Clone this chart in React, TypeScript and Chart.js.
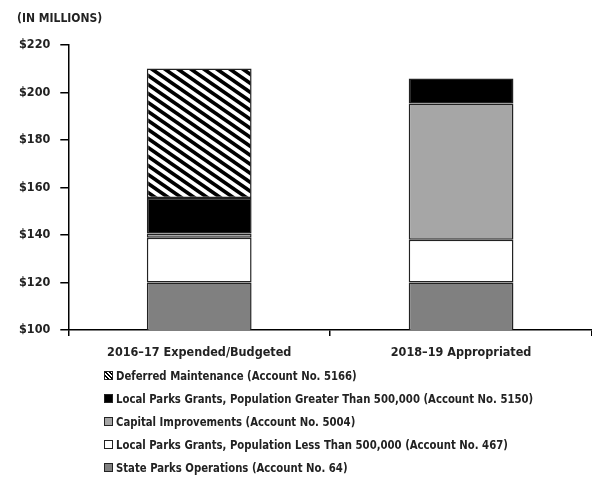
import React, { useEffect, useRef } from "react";
import { Chart, registerables } from "chart.js";

Chart.register(...registerables);

const categories = ["2016\u201317 Expended/Budgeted", "2018\u201319 Appropriated"];
const yTicks = [100, 120, 140, 160, 180, 200, 220];
const stateParksOps = [120, 120];
const localParksSmall = [18.8, 18];
const capitalImprovements = [1.8, 57.4];
const localParksLarge = [15, 10.5];
const deferredMaintenance = [54.5, 0];
const seriesLabels = [
  "State Parks Operations (Account No. 64)",
  "Local Parks Grants, Population Less Than 500,000 (Account No. 467)",
  "Capital Improvements (Account No. 5004)",
  "Local Parks Grants, Population Greater Than 500,000 (Account No. 5150)",
  "Deferred Maintenance (Account No. 5166)",
];
const unitTitle = "(IN MILLIONS)";

const FONT = "'DejaVu Sans Condensed', 'DejaVu Sans', sans-serif";

function makeHatch(): CanvasPattern | string {
  const c = document.createElement("canvas");
  const w = 13, h = 9;
  c.width = w; c.height = h;
  const ctx = c.getContext("2d");
  if (!ctx) return "#000";
  ctx.fillStyle = "#fff";
  ctx.fillRect(0, 0, w, h);
  ctx.strokeStyle = "#000";
  ctx.lineWidth = 3.6;
  for (const dx of [-w, 0, w]) {
    ctx.beginPath();
    ctx.moveTo(-w + dx, -h);
    ctx.lineTo(2 * w + dx, 2 * h);
    ctx.stroke();
  }
  const p = ctx.createPattern(c, "repeat");
  return p || "#000";
}

export default function App() {
  const ref = useRef<HTMLCanvasElement>(null);
  useEffect(() => {
    document.body.style.margin = "0";
    const hatch = makeHatch();
    const fills: any[] = ["#808080", "#ffffff", "#a6a6a6", "#000000", hatch];
    const values = [stateParksOps, localParksSmall, capitalImprovements, localParksLarge, deferredMaintenance];
    const chart = new Chart(ref.current!, {
      type: "bar",
      data: {
        labels: categories,
        datasets: values.map((v, i) => ({
          label: seriesLabels[i],
          data: v,
          backgroundColor: fills[i],
          borderColor: "#222",
          borderWidth: 1.5,
          borderSkipped: false,
          barPercentage: 0.4,
          categoryPercentage: 1,
        })),
      },
      options: {
        animation: false,
        responsive: false,
        maintainAspectRatio: false,
        layout: { padding: { left: 9, right: 0, top: 45, bottom: 0 } },
        plugins: {
          legend: { display: false },
          tooltip: { enabled: false },
          title: { display: false },
        },
        scales: {
          x: {
            stacked: true,
            grid: { display: true, drawOnChartArea: false, offset: true, tickLength: 6, color: "#000", lineWidth: 1.5 },
            border: { color: "#000", width: 1.5 },
            ticks: { color: "#222", font: { family: FONT, size: 12.5, weight: "bold" }, padding: 9 },
          },
          y: {
            stacked: true,
            min: yTicks[0],
            max: yTicks[yTicks.length - 1],
            afterBuildTicks: (axis: any) => {
              axis.ticks = yTicks.map((v) => ({ value: v }));
            },
            grid: { display: true, drawOnChartArea: false, tickLength: 8, color: "#000", lineWidth: 1.5 },
            border: { color: "#000", width: 1.5 },
            ticks: {
              color: "#222",
              font: { family: FONT, size: 12.5, weight: "bold" },
              padding: 10,
              callback: (v: any) => "$" + v,
            },
          },
        },
      },
    });
    return () => chart.destroy();
  }, []);

  const legendOrder = [4, 3, 2, 1, 0];
  const swatch = (i: number): React.CSSProperties => {
    const base: React.CSSProperties = {
      display: "inline-block",
      width: 9,
      height: 9,
      border: "1px solid #222",
      marginRight: 3,
      boxSizing: "border-box",
      flex: "none",
    };
    const bg = ["#808080", "#ffffff", "#a6a6a6", "#000000"];
    if (i === 4) {
      return {
        ...base,
        background: "repeating-linear-gradient(45deg, #fff 0 1.5px, #000 1.5px 3px)",
      };
    }
    return { ...base, background: bg[i] };
  };

  return (
    <div style={{ position: "relative", width: 592, height: 490 }}>
      <canvas ref={ref} width={592} height={369} style={{ display: "block" }} />
      <div style={{ position: "absolute", left: 17, top: 11, height: 14, lineHeight: "14px", fontFamily: FONT, fontWeight: "bold", fontSize: 12, color: "#222", whiteSpace: "nowrap" }}>
        {unitTitle}
      </div>
      <div style={{ position: "absolute", left: 104, top: 364, fontFamily: FONT, fontWeight: "bold", fontSize: 13, color: "#222" }}>
        {legendOrder.map((i) => (
          <div key={i} style={{ height: 23, lineHeight: "23px", display: "flex", alignItems: "center", whiteSpace: "nowrap" }}>
            <span style={swatch(i)} />
            <span style={{ display: "inline-block", transform: "scaleX(0.865)", transformOrigin: "left center" }}>{seriesLabels[i]}</span>
          </div>
        ))}
      </div>
    </div>
  );
}
